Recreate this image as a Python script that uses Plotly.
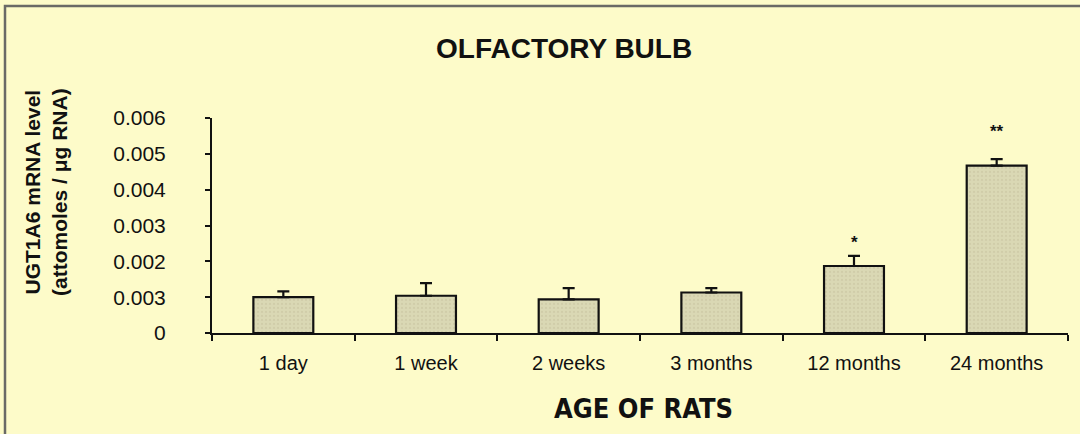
import plotly.graph_objects as go

# UGT1A6 mRNA in the olfactory bulb across ages
ages = ["1 day", "1 week", "2 weeks", "3 months", "12 months", "24 months"]
mrna_level = [0.00100, 0.00104, 0.00094, 0.00113, 0.00187, 0.00467]
mrna_sem = [0.00016, 0.00035, 0.00031, 0.00012, 0.00028, 0.00018]
significance = ["", "", "", "", "*", "**"]

# y tick values and the labels printed beside them
y_tickvals = [0, 0.001, 0.002, 0.003, 0.004, 0.005, 0.006]
y_ticktext = ["0", "0.003", "0.002", "0.003", "0.004", "0.005", "0.006"]

BG = "#fdfbc9"
BAR = "#dad8b4"
FONT = "Liberation Sans, Arial, Helvetica, sans-serif"

W, H = 1080, 434
L, R, T, B = 212, 12, 118, 101
pw, ph = W - L - R, H - T - B


def px(x):
    return (x - L) / pw


def py(y):
    return (H - B - y) / ph


fig = go.Figure()
fig.add_trace(go.Bar(
    x=ages, y=mrna_level,
    width=0.42,
    marker=dict(color=BAR, line=dict(color="#111111", width=2.2),
                pattern=dict(shape=".", size=4, solidity=0.25,
                             fgcolor="#c6c29d", bgcolor=BAR)),
    error_y=dict(type="data", array=mrna_sem, arrayminus=[0] * len(ages),
                 symmetric=False, color="#111111", thickness=2.2, width=6),
    showlegend=False,
))

annotations = []
for a, v, e, s in zip(ages, mrna_level, mrna_sem, significance):
    if s:
        # double stars sit a little higher above their cap
        annotations.append(dict(x=a, y=v + e, xref="x", yref="y", text="<b>" + s + "</b>",
                                showarrow=False, yanchor="bottom",
                                yshift=2 + 14 * (len(s) - 1),
                                font=dict(family=FONT, size=17, color="#111111")))

annotations += [
    dict(text="<b>OLFACTORY BULB</b>", x=px(564), y=py(48), xref="paper", yref="paper",
         showarrow=False, xanchor="center", yanchor="middle",
         font=dict(family=FONT, size=28, color="#111111")),
    dict(text="<b>UGT1A6 mRNA level<br>(attomoles / \u03bcg RNA)</b>",
         x=px(46), y=py(192), xref="paper", yref="paper", textangle=-90,
         showarrow=False, xanchor="center", yanchor="middle",
         font=dict(family=FONT, size=21, color="#111111")),
    dict(text="<b>AGE OF RATS</b>", x=px(643), y=py(408), xref="paper", yref="paper",
         showarrow=False, xanchor="center", yanchor="middle",
         font=dict(family="Liberation Sans Narrow, DejaVu Sans Condensed, Arial Narrow, sans-serif",
                   size=27, color="#111111")),
]

# outer frame around the figure
fig.add_shape(type="rect", xref="paper", yref="paper",
              x0=px(5), x1=px(1095), y0=py(450), y1=py(6),
              line=dict(color="#6a6a66", width=2.5), fillcolor="rgba(0,0,0,0)",
              layer="above")

fig.update_layout(
    width=W, height=H,
    margin=dict(l=L, r=R, t=T, b=B, pad=0),
    paper_bgcolor=BG, plot_bgcolor=BG,
    annotations=annotations,
    font=dict(family=FONT, color="#111111"),
)
fig.update_xaxes(
    type="category", range=[-0.5, 5.5],
    showline=True, linecolor="#111111", linewidth=2,
    ticks="outside", tickson="boundaries", ticklen=6, tickwidth=2, tickcolor="#111111",
    showgrid=False, zeroline=False,
    tickfont=dict(family=FONT, size=20, color="#111111"),
    ticklabelstandoff=11,
)
fig.update_yaxes(
    range=[0, 0.006],
    tickvals=y_tickvals, ticktext=y_ticktext,
    showline=True, linecolor="#111111", linewidth=2,
    ticks="outside", ticklen=5, tickwidth=2, tickcolor="#111111",
    showgrid=False, zeroline=False,
    tickfont=dict(family=FONT, size=21, color="#111111"),
    ticklabelstandoff=35,
)

fig.write_html("out.html")
